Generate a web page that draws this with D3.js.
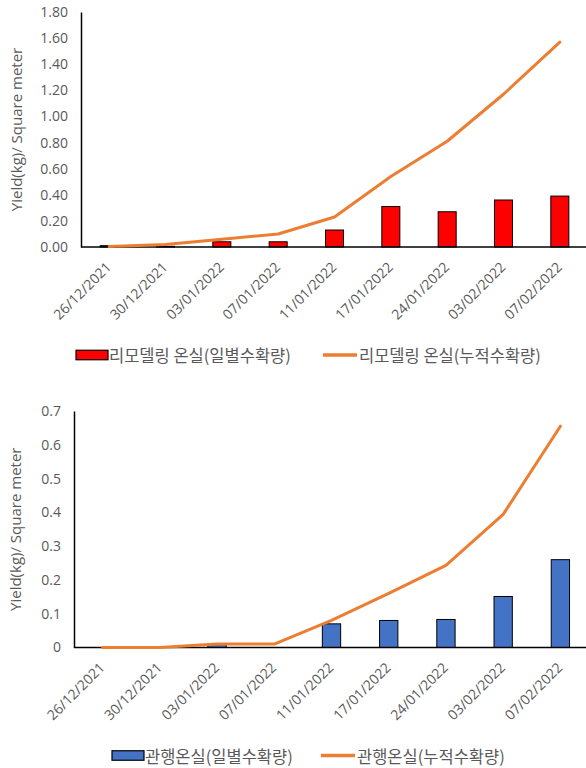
<!DOCTYPE html>
<html>
<head>
<meta charset="utf-8">
<script src="https://cdn.jsdelivr.net/npm/d3@7"></script>
<style>
  html, body { margin: 0; padding: 0; background: #fff; }
  svg { display: block; }
  text { font-family: "Open Sans", "Noto Sans CJK KR", sans-serif; fill: #595959; }
</style>
</head>
<body>
<svg id="chart" width="586" height="768"></svg>
<script>
// Harvest dates (shared by both greenhouses)
const dates = ["26/12/2021", "30/12/2021", "03/01/2022", "07/01/2022", "11/01/2022",
               "17/01/2022", "24/01/2022", "03/02/2022", "07/02/2022"];

// Remodeled greenhouse: daily yield and cumulative yield (kg / m²)
const remodelDaily      = [0.01, 0.005, 0.04, 0.04, 0.13, 0.31, 0.27, 0.36, 0.39];
const remodelCumulative = [0.003, 0.02, 0.06, 0.10, 0.23, 0.54, 0.81, 1.17, 1.57];

// Conventional greenhouse: daily yield and cumulative yield (kg / m²)
const conventionalDaily      = [0, 0, 0.01, 0, 0.07, 0.08, 0.083, 0.151, 0.26];
const conventionalCumulative = [0, 0, 0.01, 0.01, 0.08, 0.16, 0.243, 0.394, 0.655];

// Axis tick values
const ticksTop    = [0, 0.2, 0.4, 0.6, 0.8, 1.0, 1.2, 1.4, 1.6, 1.8];
const ticksBottom = [0, 0.1, 0.2, 0.3, 0.4, 0.5, 0.6, 0.7];

// Legend labels
const legendTop    = ["리모델링 온실(일별수확량)", "리모델링 온실(누적수확량)"];
const legendBottom = ["관행온실(일별수확량)", "관행온실(누적수확량)"];

const yTitle = "Yield(kg)/ Square meter";

const svg = d3.select("#chart");

function drawPanel(cfg) {
  const g = svg.append("g");

  const x = d3.scaleBand().domain(dates).range([cfg.left, cfg.right]).padding(0);
  const y = d3.scaleLinear().domain([0, cfg.max]).range([cfg.bottom, cfg.top]);
  const barW = x.bandwidth() * 0.32;
  const cx = d => x(d) + x.bandwidth() / 2;

  // Y axis (labels only, no tick marks)
  const yAxis = d3.axisLeft(y).tickValues(cfg.ticks).tickSize(0).tickPadding(cfg.tickPad)
    .tickFormat(cfg.fmt);
  const ya = g.append("g").attr("transform", `translate(${cfg.left},0)`).call(yAxis);
  ya.select(".domain").attr("stroke", "#000").attr("stroke-width", 1.5);
  ya.selectAll("text").attr("font-size", 14).attr("fill", "#595959")
    .style("font-family", "'Open Sans', sans-serif");

  // Y axis title
  g.append("text")
    .attr("transform", `translate(${cfg.titleX},${(cfg.top + cfg.bottom) / 2}) rotate(-90)`)
    .attr("text-anchor", "middle")
    .attr("dominant-baseline", "middle")
    .attr("font-size", 15)
    .text(yTitle);

  // Daily bars
  g.append("g").selectAll("rect").data(cfg.daily).join("rect")
    .attr("x", (d, i) => cx(dates[i]) - barW / 2)
    .attr("y", d => y(d))
    .attr("width", barW)
    .attr("height", d => cfg.bottom - y(d))
    .attr("fill", cfg.barColor)
    .attr("stroke", "#000")
    .attr("stroke-width", 1);

  // X axis line
  g.append("line")
    .attr("x1", cfg.left).attr("x2", cfg.right)
    .attr("y1", cfg.bottom).attr("y2", cfg.bottom)
    .attr("stroke", "#000").attr("stroke-width", 1.5);

  // Cumulative line
  const line = d3.line().x((d, i) => cx(dates[i])).y(d => y(d));
  g.append("path").datum(cfg.cumulative)
    .attr("d", line)
    .attr("fill", "none")
    .attr("stroke", "#ED7D31")
    .attr("stroke-width", 3)
    .attr("stroke-linejoin", "round")
    .attr("stroke-linecap", "round");

  // Rotated date labels
  g.append("g").selectAll("text").data(dates).join("text")
    .attr("transform", d => `translate(${cx(d) + 3},${cfg.bottom + 21}) rotate(-45)`)
    .attr("text-anchor", "end")
    .attr("font-size", 14)
    .text(d => d);

  // Legend
  const lg = g.append("g");
  lg.append("rect")
    .attr("x", cfg.legBox).attr("y", cfg.legY - 4.75)
    .attr("width", 32).attr("height", 9.5)
    .attr("fill", cfg.barColor).attr("stroke", "#000").attr("stroke-width", 1.2);
  lg.append("text")
    .attr("x", cfg.legBox + 33).attr("y", cfg.legY)
    .attr("dominant-baseline", "central")
    .attr("font-size", 16.5)
    .style("font-family", "'Noto Sans CJK KR', sans-serif")
    .text(cfg.legend[0]);
  lg.append("line")
    .attr("x1", cfg.legLine).attr("x2", cfg.legLine + 34)
    .attr("y1", cfg.legY).attr("y2", cfg.legY)
    .attr("stroke", "#ED7D31").attr("stroke-width", 3.5);
  lg.append("text")
    .attr("x", cfg.legLine + 36).attr("y", cfg.legY)
    .attr("dominant-baseline", "central")
    .attr("font-size", 16.5)
    .style("font-family", "'Noto Sans CJK KR', sans-serif")
    .text(cfg.legend[1]);
}

drawPanel({
  left: 81, right: 588, top: 12, bottom: 247, max: 1.8,
  ticks: ticksTop, fmt: d3.format(".2f"), tickPad: 13, titleX: 18,
  daily: remodelDaily, cumulative: remodelCumulative, barColor: "#FF0000",
  legend: legendTop, legY: 355, legBox: 76, legLine: 323
});

drawPanel({
  left: 74, right: 589, top: 411, bottom: 647.5, max: 0.7,
  ticks: ticksBottom, fmt: d => d === 0 ? "0" : d.toFixed(1), tickPad: 13, titleX: 17,
  daily: conventionalDaily, cumulative: conventionalCumulative, barColor: "#4472C4",
  legend: legendBottom, legY: 755.5, legBox: 112, legLine: 321
});
</script>
</body>
</html>
